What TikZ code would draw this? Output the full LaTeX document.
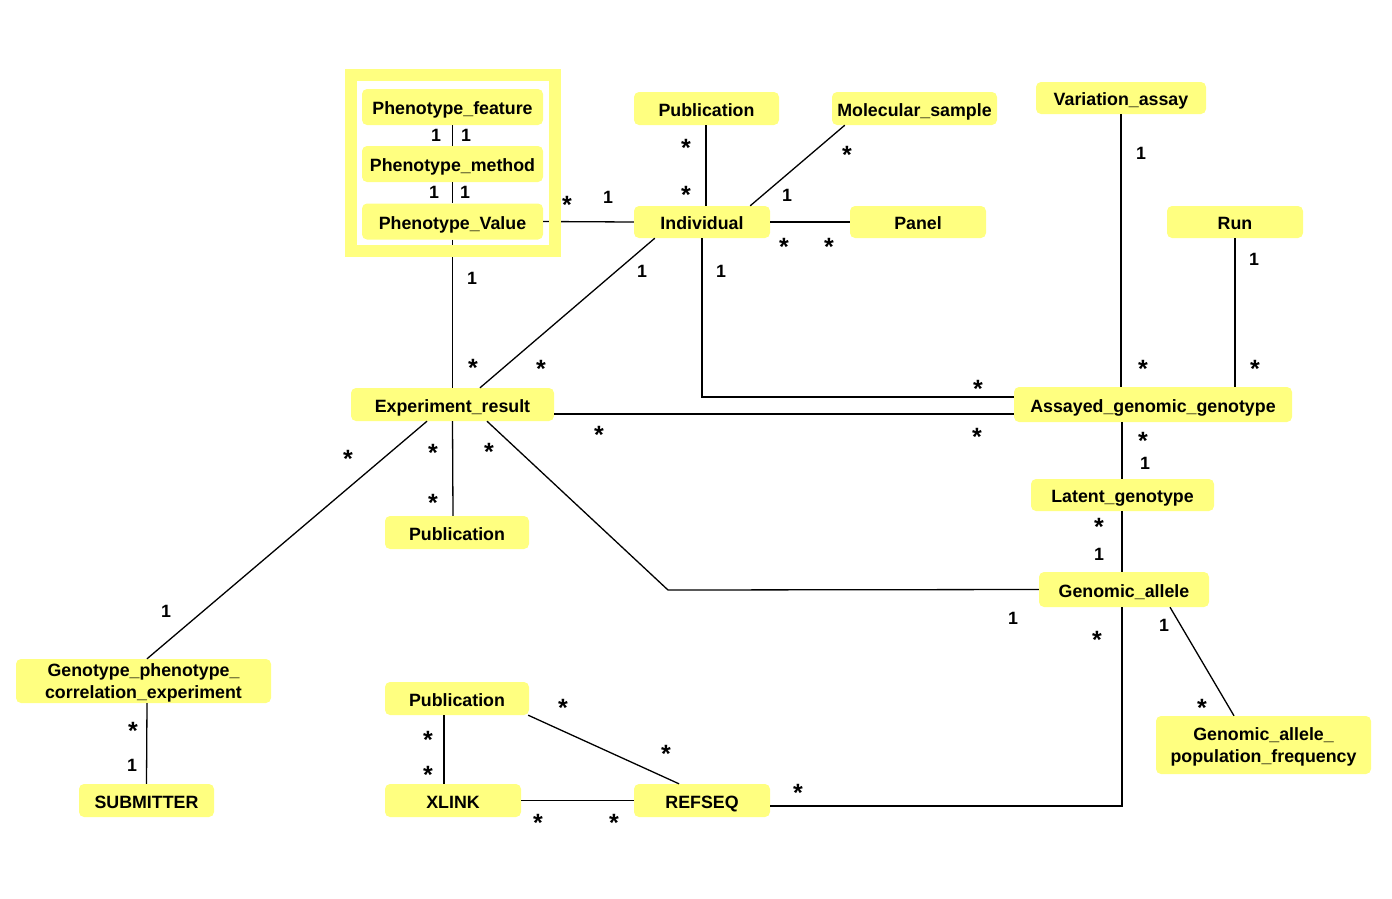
\documentclass[tikz,border=0pt]{standalone}
\usepackage{fontspec}
\setmainfont{Liberation Sans}
\definecolor{classfill}{RGB}{255,255,128}
\begin{document}
\begin{tikzpicture}[x=1pt,y=-1pt,
  cls/.style={fill=classfill, rounded corners=5pt, inner sep=0pt, align=center,
    font=\fontsize{17.8}{21.5}\selectfont\bfseries},
  oneline/.style={text height=15.5pt, text depth=0pt},
  twoline/.style={text depth=-6pt},
  link/.style={line width=1.3pt, black},
  one/.style={font=\fontsize{17.8}{20}\selectfont\bfseries, inner sep=0pt},
  many/.style={font=\fontsize{25}{28}\selectfont\bfseries, inner sep=0pt, yshift=-2.5pt}]
\useasboundingbox (0,0) rectangle (1392,898);

% classes
\node[cls, oneline, minimum width=181pt, minimum height=36pt] (pfeat) at (452.5,107) {Phenotype\_feature};
\node[cls, oneline, minimum width=181pt, minimum height=36pt] (pmeth) at (452.5,164) {Phenotype\_method};
\node[cls, oneline, minimum width=181pt, minimum height=36pt] (pval) at (452.5,221.5) {Phenotype\_Value};
\node[cls, oneline, minimum width=145pt, minimum height=33pt] (pubt) at (706.5,108.5) {Publication};
\node[cls, oneline, minimum width=165pt, minimum height=33pt] (msamp) at (914.5,108.5) {Molecular\_sample};
\node[cls, oneline, minimum width=136pt, minimum height=32pt] (indiv) at (702,222) {Individual};
\node[cls, oneline, minimum width=136pt, minimum height=32pt] (panel) at (918,222) {Panel};
\node[cls, oneline, minimum width=170pt, minimum height=32pt] (vassay) at (1121,98) {Variation\_assay};
\node[cls, oneline, minimum width=136pt, minimum height=32pt] (run) at (1235,222) {Run};
\node[cls, oneline, minimum width=203pt, minimum height=33pt] (expr) at (452.5,404.5) {Experiment\_result};
\node[cls, oneline, minimum width=278pt, minimum height=35pt] (agg) at (1153,404.5) {Assayed\_genomic\_genotype};
\node[cls, oneline, minimum width=183pt, minimum height=32pt] (latg) at (1122.5,495) {Latent\_genotype};
\node[cls, oneline, minimum width=170pt, minimum height=35pt] (gall) at (1124,589.5) {Genomic\_allele};
\node[cls, twoline, minimum width=215pt, minimum height=58pt] (gapf) at (1263.5,745) {Genomic\_allele\_\\population\_frequency};
\node[cls, oneline, minimum width=144pt, minimum height=33pt] (pubm) at (457,532.5) {Publication};
\node[cls, twoline, minimum width=255pt, minimum height=44pt] (gpce) at (143.5,681) {Genotype\_phenotype\_\\correlation\_experiment};
\node[cls, oneline, minimum width=135pt, minimum height=33pt] (subm) at (146.5,800.5) {SUBMITTER};
\node[cls, oneline, minimum width=144pt, minimum height=33pt] (pubb) at (457,698.5) {Publication};
\node[cls, oneline, minimum width=136pt, minimum height=33pt] (xlink) at (453,800.5) {XLINK};
\node[cls, oneline, minimum width=136pt, minimum height=33pt] (refseq) at (702,800.5) {REFSEQ};

% bend points
\coordinate (erbend) at (668,590);

% associations
\draw[link] (pfeat) -- (pmeth);
\draw[link] (pmeth) -- (pval);
\draw[link] (pval.east) -- (indiv.west);
\draw[link] (pval.south) -- (expr.north);
\draw[link] ([xshift=-0.5pt]pubt.south) -- ([xshift=4pt]indiv.north);
\draw[link] ([xshift=13pt]msamp.south west) -- ([xshift=-20pt]indiv.north east);
\draw[link] (indiv.east) -- (panel.west);
\draw[link] ([xshift=21pt]indiv.south west) -- ([xshift=27.5pt]expr.north);
\draw[link] (indiv.south) |- ([yshift=7.5pt]agg.west);
\draw[link] ([yshift=-9.5pt]expr.east) -- ([yshift=-9.5pt]agg.west);
\draw[link] (vassay.south) -- ([xshift=-32pt]agg.north);
\draw[link] (run.south) -- ([xshift=82pt]agg.north);
\draw[link] ([xshift=-31pt]agg.south) -- ([xshift=-0.5pt]latg.north);
\draw[link] ([xshift=-0.5pt]latg.south) -- ([xshift=-2pt]gall.north);
\draw[link] ([xshift=34.5pt]expr.south) -- (erbend) -- (gall.west);
\draw[link] ([xshift=-2pt]gall.south) |- ([yshift=-5.5pt]refseq.east);
\draw[link] ([xshift=46pt]gall.south) -- ([xshift=-29.5pt]gapf.north);
\draw[link] (expr.south) -- ([xshift=-4pt]pubm.north);
\draw[link] ([xshift=-25.5pt]expr.south) -- ([xshift=3.5pt]gpce.north);
\draw[link] ([xshift=3.5pt]gpce.south) -- (subm.north);
\draw[link] ([xshift=-13pt]pubb.south) -- ([xshift=-9pt]xlink.north);
\draw[link] ([xshift=-1pt]pubb.south east) -- ([xshift=-23pt]refseq.north);
\draw[link] (xlink.east) -- (refseq.west);

% phenotype package frame
\draw[classfill, line width=12pt] (351,74.5) rectangle (555,250.5);

% multiplicities
\node[one] at (436,135) {1};  \node[one] at (466,135) {1};
\node[one] at (434,192) {1};  \node[one] at (465,192) {1};
\node[many] at (567,202) {*}; \node[one] at (608,197) {1};
\node[one] at (472,278) {1};  \node[many] at (473,365) {*};
\node[many] at (686,145) {*}; \node[many] at (686,192) {*};
\node[many] at (847,152) {*}; \node[one] at (787,195) {1};
\node[many] at (784,244) {*}; \node[many] at (829,244) {*};
\node[one] at (642,271) {1};  \node[many] at (541,366) {*};
\node[one] at (721,271) {1};  \node[many] at (978,386) {*};
\node[many] at (599,432) {*}; \node[many] at (977,434) {*};
\node[one] at (1141,153) {1}; \node[many] at (1143,366) {*};
\node[one] at (1254,259) {1}; \node[many] at (1255,366) {*};
\node[many] at (1143,438) {*}; \node[one] at (1145,463) {1};
\node[many] at (1099,524) {*}; \node[one] at (1099,554) {1};
\node[many] at (489,449) {*}; \node[one] at (1013,618) {1};
\node[many] at (1097,637) {*}; \node[many] at (798,790) {*};
\node[one] at (1164,625) {1}; \node[many] at (1202,705) {*};
\node[many] at (433,450) {*}; \node[many] at (433,500) {*};
\node[many] at (348,456) {*}; \node[one] at (166,611) {1};
\node[many] at (133,728) {*}; \node[one] at (132,765) {1};
\node[many] at (428,737) {*}; \node[many] at (428,772) {*};
\node[many] at (563,705) {*}; \node[many] at (666,751) {*};
\node[many] at (538,820) {*}; \node[many] at (614,820) {*};
\end{tikzpicture}
\end{document}
